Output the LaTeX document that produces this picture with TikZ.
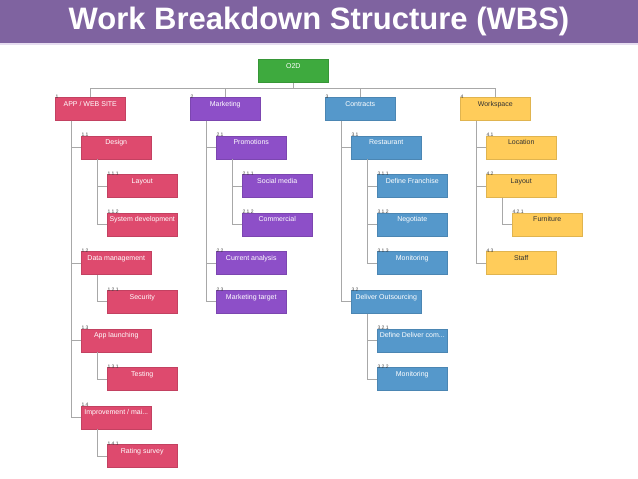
\documentclass[tikz,border=0pt]{standalone}
\usepackage{fontspec}
\setmainfont{Liberation Sans}
\definecolor{titlecol}{HTML}{7F63A0}
\definecolor{titleline}{HTML}{E6DDF0}
\definecolor{cpink}{HTML}{DE4A6E}
\definecolor{cpurple}{HTML}{8D4FC8}
\definecolor{cblue}{HTML}{5598CB}
\definecolor{cyellow}{HTML}{FFCC5A}
\definecolor{cgreen}{HTML}{3EAA3E}
\definecolor{cline}{HTML}{A8A8A8}
\definecolor{cnum}{HTML}{444444}
\tikzset{
  box/.style={draw=#1!88!black, fill=#1, line width=0.5pt, anchor=north west,
    minimum width=70pt, inner xsep=1pt, inner ysep=0pt,
    text height=8.8pt, text depth=14.2pt, font=\fontsize{7}{8}\selectfont, text=white},
  ybox/.style={box=cyellow, text=black!80},
  num/.style={anchor=south west, inner sep=0.3pt, yshift=-1.6pt, font=\fontsize{5}{5}\selectfont, text=cnum},
  conn/.style={draw=cline, line width=0.7pt},
  titletext/.style={font=\fontsize{31}{31}\selectfont\bfseries, text=white}
}
\newcommand{\rowy}[1]{{97+38.6*#1}}
\begin{document}
\begin{tikzpicture}[x=1pt,y=-1pt]
\useasboundingbox (0,0) rectangle (638,479);
\fill[white] (0,0) rectangle (638,479);
\fill[titlecol] (0,0) rectangle (638,43);
\fill[titleline] (0,43) rectangle (638,44.5);
\node[titletext] (title) at (319,21.5) {Work Breakdown Structure (WBS)};

% root
\node[box=cgreen, minimum width=70pt] (o2d) at (258,59) {O2D};

% level 1
\node[box=cpink, label={[num]north west:1}] (app) at (55,\rowy{0}) {APP / WEB SITE};
\node[box=cpurple, label={[num]north west:2}] (mkt) at (190,\rowy{0}) {Marketing};
\node[box=cblue, label={[num]north west:3}] (con) at (325,\rowy{0}) {Contracts};
\node[ybox, label={[num]north west:4}] (ws) at (460,\rowy{0}) {Workspace};

% column 1
\node[box=cpink, label={[num]north west:1.1}] (des) at (81,\rowy{1}) {Design};
\node[box=cpink, label={[num]north west:1.1.1}] (lay) at (107,\rowy{2}) {Layout};
\node[box=cpink, label={[num]north west:1.1.2}] (sys) at (107,\rowy{3}) {System development};
\node[box=cpink, label={[num]north west:1.2}] (dm) at (81,\rowy{4}) {Data management};
\node[box=cpink, label={[num]north west:1.2.1}] (sec) at (107,\rowy{5}) {Security};
\node[box=cpink, label={[num]north west:1.3}] (al) at (81,\rowy{6}) {App launching};
\node[box=cpink, label={[num]north west:1.3.1}] (tst) at (107,\rowy{7}) {Testing};
\node[box=cpink, label={[num]north west:1.4}] (imp) at (81,\rowy{8}) {Improvement / mai...};
\node[box=cpink, label={[num]north west:1.4.1}] (rat) at (107,\rowy{9}) {Rating survey};

% column 2
\node[box=cpurple, label={[num]north west:2.1}] (pro) at (216,\rowy{1}) {Promotions};
\node[box=cpurple, label={[num]north west:2.1.1}] (soc) at (242,\rowy{2}) {Social media};
\node[box=cpurple, label={[num]north west:2.1.2}] (com) at (242,\rowy{3}) {Commercial};
\node[box=cpurple, label={[num]north west:2.2}] (cur) at (216,\rowy{4}) {Current analysis};
\node[box=cpurple, label={[num]north west:2.3}] (mtg) at (216,\rowy{5}) {Marketing target};

% column 3
\node[box=cblue, label={[num]north west:3.1}] (res) at (351,\rowy{1}) {Restaurant};
\node[box=cblue, label={[num]north west:3.1.1}] (dfr) at (377,\rowy{2}) {Define Franchise};
\node[box=cblue, label={[num]north west:3.1.2}] (neg) at (377,\rowy{3}) {Negotiate};
\node[box=cblue, label={[num]north west:3.1.3}] (mona) at (377,\rowy{4}) {Monitoring};
\node[box=cblue, label={[num]north west:3.2}] (dout) at (351,\rowy{5}) {Deliver Outsourcing};
\node[box=cblue, label={[num]north west:3.2.1}] (ddc) at (377,\rowy{6}) {Define Deliver com...};
\node[box=cblue, label={[num]north west:3.2.2}] (monb) at (377,\rowy{7}) {Monitoring};

% column 4
\node[ybox, label={[num]north west:4.1}] (loc) at (486,\rowy{1}) {Location};
\node[ybox, label={[num]north west:4.2}] (wlay) at (486,\rowy{2}) {Layout};
\node[ybox, label={[num]north west:4.2.1}] (fur) at (512,\rowy{3}) {Furniture};
\node[ybox, label={[num]north west:4.3}] (stf) at (486,\rowy{4}) {Staff};

% top bus
\coordinate (bus) at (293,88);
\draw[conn] (o2d.south) -- (o2d.south |- bus);
\draw[conn] (app.north) |- (ws.north |- bus) -- (ws.north);
\draw[conn] (mkt.north) -- (mkt.north |- bus);
\draw[conn] (con.north) -- (con.north |- bus);

% child connectors
\foreach \p/\c in {app/des, app/dm, app/al, app/imp, des/lay, des/sys, dm/sec, al/tst, imp/rat,
                   mkt/pro, mkt/cur, mkt/mtg, pro/soc, pro/com,
                   con/res, con/dout, res/dfr, res/neg, res/mona, dout/ddc, dout/monb,
                   ws/loc, ws/wlay, ws/stf, wlay/fur}
  \draw[conn] ([xshift=16.5pt]\p.south west) |- (\c.west);
\end{tikzpicture}
\end{document}
